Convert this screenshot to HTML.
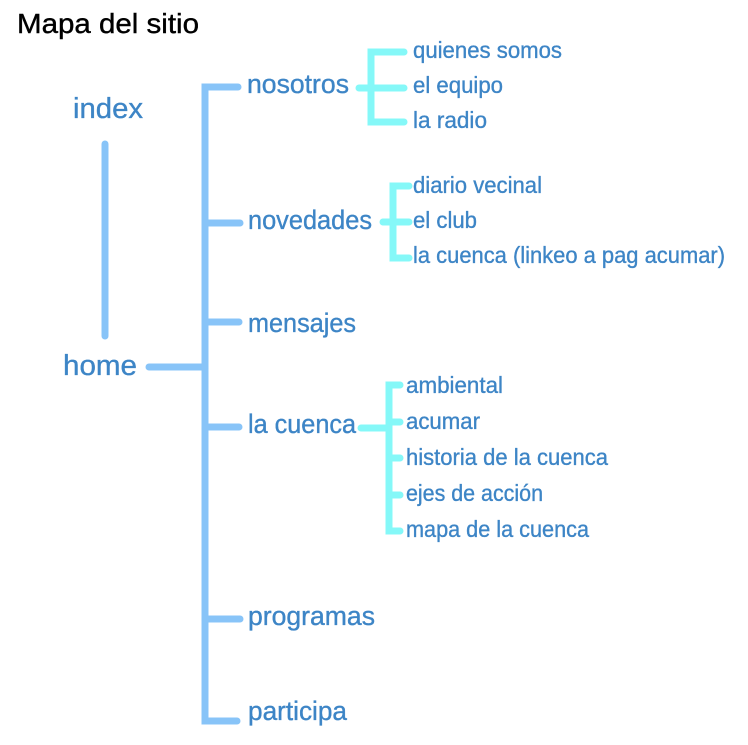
<!DOCTYPE html>
<html><head><meta charset="utf-8"><style>
html,body{margin:0;padding:0;background:#fff;}
svg{display:block;}
text{font-family:"Liberation Sans",sans-serif;}
.t{fill:#3d85c6;stroke:#3d85c6;stroke-width:0.35;}
</style></head><body>
<svg width="748" height="745" viewBox="0 0 748 745" xmlns="http://www.w3.org/2000/svg">
<g stroke="#88c4f8" stroke-width="7" stroke-linecap="round" fill="none">
<line x1="105" y1="144" x2="105" y2="336"/>
<path d="M238 87 H205 V721 H237"/>
<line x1="205" y1="223" x2="240" y2="223"/>
<line x1="205" y1="322" x2="239" y2="322"/>
<line x1="149" y1="367" x2="205" y2="367"/>
<line x1="205" y1="427" x2="239" y2="427"/>
<line x1="205" y1="619" x2="240" y2="619"/>
</g>
<g stroke="#85f8f8" stroke-width="7" stroke-linecap="round" fill="none">
<path d="M404 52 H371 V122 H404"/>
<line x1="359" y1="88" x2="404" y2="88"/>
<path d="M409 186 H393 V258 H409"/>
<line x1="383" y1="222" x2="409" y2="222"/>
<path d="M400 385 H389 V531 H400"/>
<line x1="389" y1="422" x2="400" y2="422"/>
<line x1="389" y1="458" x2="400" y2="458"/>
<line x1="389" y1="495" x2="400" y2="495"/>
<line x1="361" y1="428" x2="389" y2="428"/>
</g>
<text x="17" y="33" font-size="28" fill="#000" stroke="#000" stroke-width="0.4" textLength="182" lengthAdjust="spacingAndGlyphs">Mapa del sitio</text>
<g font-size="29">
<text x="73" y="118" textLength="70" lengthAdjust="spacingAndGlyphs" class="t">index</text>
<text x="63" y="375" textLength="74" lengthAdjust="spacingAndGlyphs" class="t">home</text>
</g>
<g font-size="26.5">
<text class="t" x="247" y="93" textLength="102" lengthAdjust="spacingAndGlyphs">nosotros</text>
<text class="t" x="248" y="229" textLength="124" lengthAdjust="spacingAndGlyphs">novedades</text>
<text class="t" x="248" y="332" textLength="108" lengthAdjust="spacingAndGlyphs">mensajes</text>
<text class="t" x="248" y="433" textLength="108" lengthAdjust="spacingAndGlyphs">la cuenca</text>
<text class="t" x="248" y="625" textLength="127" lengthAdjust="spacingAndGlyphs">programas</text>
<text class="t" x="248" y="720" textLength="99" lengthAdjust="spacingAndGlyphs">participa</text>
</g>
<g font-size="23.5">
<text class="t" x="413" y="58" textLength="149" lengthAdjust="spacingAndGlyphs">quienes somos</text>
<text class="t" x="413" y="93" textLength="90" lengthAdjust="spacingAndGlyphs">el equipo</text>
<text class="t" x="413" y="128" textLength="74" lengthAdjust="spacingAndGlyphs">la radio</text>
<text class="t" x="413" y="193" textLength="129" lengthAdjust="spacingAndGlyphs">diario vecinal</text>
<text class="t" x="413" y="228" textLength="64" lengthAdjust="spacingAndGlyphs">el club</text>
<text class="t" x="413" y="263" textLength="312" lengthAdjust="spacingAndGlyphs">la cuenca (linkeo a pag acumar)</text>
<text class="t" x="406" y="393" textLength="97" lengthAdjust="spacingAndGlyphs">ambiental</text>
<text class="t" x="406" y="429" textLength="74" lengthAdjust="spacingAndGlyphs">acumar</text>
<text class="t" x="406" y="465" textLength="202" lengthAdjust="spacingAndGlyphs">historia de la cuenca</text>
<text class="t" x="406" y="501" textLength="137" lengthAdjust="spacingAndGlyphs">ejes de acción</text>
<text class="t" x="406" y="537" textLength="183" lengthAdjust="spacingAndGlyphs">mapa de la cuenca</text>
</g>
</svg>
</body></html>
